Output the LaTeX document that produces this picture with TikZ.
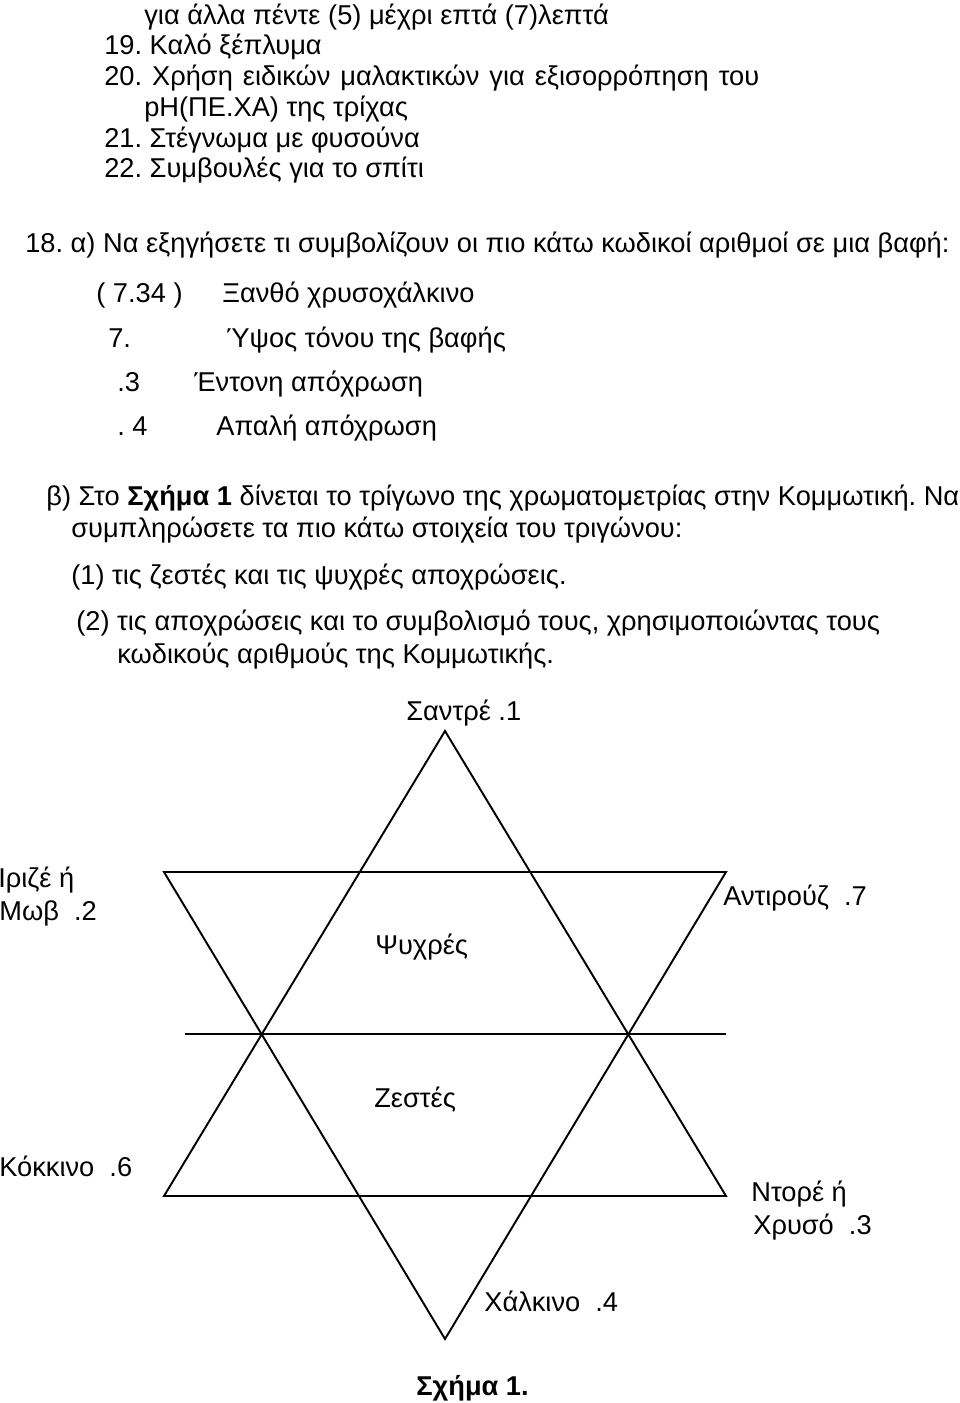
\documentclass[tikz,border=0pt]{standalone}
\usepackage{fontspec}
\setmainfont{Liberation Sans}
\usetikzlibrary{positioning}
\frenchspacing

\begin{document}
\begin{tikzpicture}[
    x=0.02cm, y=-0.02cm,
    every node/.style={font=\fontsize{15.5}{18}\selectfont},
    para/.style={anchor=base west, inner sep=0pt},
    lbl/.style={anchor=base west, inner sep=0pt},
    tri/.style={draw=black, line width=1.1pt, line join=miter},
]
\useasboundingbox (0,0) rectangle (960,1403);

\node[para] (l1) at (144,24) {για άλλα πέντε (5) μέχρι επτά (7)λεπτά};
\node[para] (l2) at (104,54) {19. Καλό ξέπλυμα};
\node[para] (l3) at (104,85) {\makebox[13.1cm][s]{20. Χρήση ειδικών μαλακτικών για εξισορρόπηση του}};
\node[para] (l4) at (144,116) {pH(ΠΕ.ΧΑ) της τρίχας};
\node[para] (l5) at (104,147) {21. Στέγνωμα με φυσούνα};
\node[para] (l6) at (104,177) {22. Συμβουλές για το σπίτι};

\node[para] (qa) at (25,252) {18. α) Να εξηγήσετε τι συμβολίζουν οι πιο κάτω κωδικοί αριθμοί σε μια βαφή:};
\node[para] (c1) at (96,302) {( 7.34 )};
\node[para] (d1) at (222,302) {Ξανθό χρυσοχάλκινο};
\node[para] (c2) at (108,347) {7.};
\node[para] (d2) at (226,347) {Ύψος τόνου της βαφής};
\node[para] (c3) at (117,391) {.3};
\node[para] (d3) at (194,391) {Έντονη απόχρωση};
\node[para] (c4) at (117,435) {. 4};
\node[para] (d4) at (216,435) {Απαλή απόχρωση};

\node[para] (qb) at (46,505) {β) Στο \textbf{Σχήμα 1} δίνεται το τρίγωνο της χρωματομετρίας στην Κομμωτική. Να};
\node[para] (qb2) at (71,537) {συμπληρώσετε τα πιο κάτω στοιχεία του τριγώνου:};
\node[para] (p1) at (71,584) {(1) τις ζεστές και τις ψυχρές αποχρώσεις.};
\node[para] (p2) at (76,630) {(2) τις αποχρώσεις και το συμβολισμό τους, χρησιμοποιώντας τους};
\node[para] (p2b) at (117,663) {κωδικούς αριθμούς της Κομμωτικής.};

\coordinate (apex) at (445,731);
\coordinate (ubl) at (164,1196);
\coordinate (ubr) at (726,1196);
\coordinate (dtl) at (164,872);
\coordinate (dtr) at (726,872);
\coordinate (dbot) at (445,1339);
\coordinate (ml) at (185,1034);
\coordinate (mr) at (726,1034);

\draw[tri] (apex) -- (ubr) -- (ubl) -- cycle;
\draw[tri] (dtl) -- (dtr) -- (dbot) -- cycle;
\draw[tri] (ml) -- (mr);

\node[lbl] (sandre) at (406,720) {Σαντρέ .1};
\node[lbl] (irize) at (-2,887) {Ιριζέ ή};
\node[lbl] (mov) at (-1,920) {Μωβ~~.2};
\node[lbl] (antirouz) at (723,905) {Αντιρούζ~~.7};
\node[lbl] (cold) at (375,954) {Ψυχρές};
\node[lbl] (warm) at (374,1107) {Ζεστές};
\node[lbl] (red) at (-1,1176) {Κόκκινο~~.6};
\node[lbl] (dore) at (751,1201) {Ντορέ ή};
\node[lbl] (gold) at (753,1234) {Χρυσό~~.3};
\node[lbl] (copper) at (484,1311) {Χάλκινο~~.4};
\node[lbl] (caption) at (416,1395) {\textbf{Σχήμα 1.}};

\end{tikzpicture}
\end{document}
